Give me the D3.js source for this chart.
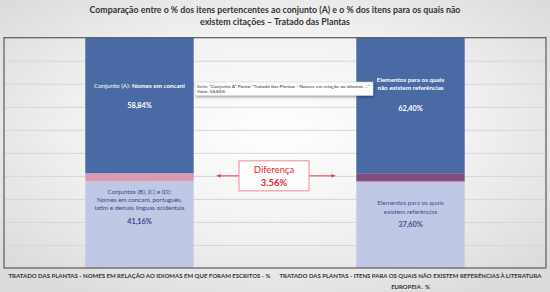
<!DOCTYPE html>
<html>
<head>
<meta charset="utf-8">
<script src="https://cdn.jsdelivr.net/npm/d3@7"></script>
<style>
  body { margin: 0; background: #fff; }
  svg { display: block; font-family: Lato, "Open Sans", sans-serif; }
</style>
</head>
<body>
<script>
var w = 550, h = 292;

// data
var categories = [
  "TRATADO DAS PLANTAS - NOMES EM RELAÇÃO AO IDIOMAS EM QUE FORAM ESCRITOS - %",
  "TRATADO DAS PLANTAS - ITENS PARA OS QUAIS NÃO EXISTEM REFERÊNCIAS À LITERATURA EUROPEIA . %"
];
var categoryLines = [
  ["TRATADO DAS PLANTAS - NOMES EM RELAÇÃO AO IDIOMAS EM QUE FORAM ESCRITOS - %"],
  ["TRATADO DAS PLANTAS - ITENS PARA OS QUAIS NÃO EXISTEM REFERÊNCIAS À LITERATURA", "EUROPEIA . %"]
];
var baseValues = [37.60, 37.60];   // common lower part
var diffValues = [3.56, 3.56];     // difference band
var topValues  = [58.84, 58.84];   // common upper part
var lowerLabels = ["41,16%", "37,60%"];
var upperLabels = ["58,84%", "62,40%"];
var gridTicks = [0, 10, 20, 30, 40, 50, 60, 70, 80, 90, 100];

var margin = {top: 37.7, left: 4, right: 4, bottom: 24};
var plotW = w - margin.left - margin.right,
    plotH = h - margin.top - margin.bottom;

var svg = d3.select("body").append("svg")
    .attr("width", w)
    .attr("height", h);

// background gradient
var defs = svg.append("defs");
var rg = defs.append("radialGradient").attr("id", "bg")
    .attr("cx", "50%").attr("cy", "45%").attr("r", "65%");
rg.append("stop").attr("offset", "0%").attr("stop-color", "#ffffff");
rg.append("stop").attr("offset", "55%").attr("stop-color", "#f1f1f1");
rg.append("stop").attr("offset", "100%").attr("stop-color", "#dcdcdc");
var sh = defs.append("filter").attr("id", "shadow")
    .attr("x", "-10%").attr("y", "-30%").attr("width", "130%").attr("height", "180%");
sh.append("feDropShadow").attr("dx", 1).attr("dy", 1.5).attr("stdDeviation", 1.2)
    .attr("flood-color", "#000").attr("flood-opacity", 0.35);

svg.append("rect").attr("width", w).attr("height", h).attr("fill", "url(#bg)");

// title
svg.append("text")
    .attr("x", w / 2).attr("y", 0)
    .attr("text-anchor", "middle")
    .attr("font-size", 8.8).attr("font-weight", "bold").attr("fill", "#333")
    .selectAll("tspan")
    .data(["Comparação entre o % dos itens pertencentes ao conjunto (A) e o % dos itens para os quais não",
           "existem citações – Tratado das Plantas"])
    .enter().append("tspan")
    .attr("x", w / 2)
    .attr("y", function(d, i) { return 13 + i * 11.5; })
    .text(function(d) { return d; });

var chart = svg.append("g")
    .attr("transform", "translate(" + margin.left + "," + margin.top + ")");

var x = d3.scaleBand()
    .domain(categories)
    .range([0, plotW])
    .paddingInner(0.6)
    .paddingOuter(0.3);

var y = d3.scaleLinear()
    .domain([0, 100])
    .range([plotH, 0]);

// gridlines
chart.append("g").selectAll("line")
    .data(gridTicks.slice(1, -1))
    .enter().append("line")
    .attr("x1", 0).attr("x2", plotW)
    .attr("y1", function(d) { return y(d) + 0.5; })
    .attr("y2", function(d) { return y(d) + 0.5; })
    .attr("stroke", "#d6d6d6").attr("stroke-width", 1);

// stacked bars
var rows = categories.map(function(c, i) {
  return {cat: c, base: baseValues[i], diff: diffValues[i], top: topValues[i]};
});
var stack = d3.stack().keys(["base", "diff", "top"])(rows);
var colors = {
  base: ["#c1c8e6", "#c1c8e6"],
  diff: ["#d99ab4", "#7c4f84"],
  top:  ["#4a6aa5", "#4a6aa5"]
};

stack.forEach(function(layer) {
  chart.append("g").selectAll("rect")
    .data(layer)
    .enter().append("rect")
    .attr("x", function(d) { return x(d.data.cat); })
    .attr("width", x.bandwidth())
    .attr("y", function(d) { return y(d[1]); })
    .attr("height", function(d) { return y(d[0]) - y(d[1]); })
    .attr("fill", function(d, i) { return colors[layer.key][i]; });
});

// thin pink edge at bottom of the purple band (right bar)
chart.append("line")
    .attr("x1", x(categories[1])).attr("x2", x(categories[1]) + x.bandwidth())
    .attr("y1", y(baseValues[1])).attr("y2", y(baseValues[1]))
    .attr("stroke", "#d98aa5").attr("stroke-width", 1);

// plot frame
chart.append("rect")
    .attr("x", 0).attr("y", 0)
    .attr("width", plotW).attr("height", plotH)
    .attr("fill", "none").attr("stroke", "#5a5a5a").attr("stroke-width", 1.2);

// labels inside bars
function lines(g, cx, y0, arr, opts) {
  var t = g.append("text")
      .attr("text-anchor", "middle")
      .attr("font-size", opts.size)
      .attr("fill", opts.color)
      .attr("font-weight", opts.weight || "normal");
  arr.forEach(function(s, i) {
    var ts = t.append("tspan").attr("x", cx).attr("y", y0 + i * opts.lh);
    if (Array.isArray(s)) {
      ts.text(s[0]);
      t.append("tspan").attr("font-weight", "bold").text(s[1]);
    } else {
      ts.text(s);
    }
  });
  return t;
}

var c0 = x(categories[0]) + x.bandwidth() / 2;
var c1 = x(categories[1]) + x.bandwidth() / 2;
var yTop = y(100);

lines(chart, c0, yTop + 50.5, [["Conjunto (A):  ", "Nomes em concani"]], {size: 6.3, color: "#ffffff", lh: 8});
lines(chart, c0, yTop + 70, [upperLabels[0]], {size: 7.3, color: "#ffffff", weight: "bold", lh: 8});

lines(chart, c1, yTop + 44.5, ["Elementos para os quais", "não existem referências"], {size: 6.3, color: "#ffffff", weight: "bold", lh: 8.3});
lines(chart, c1, yTop + 73.5, [upperLabels[1]], {size: 7.3, color: "#ffffff", weight: "bold", lh: 8});

var yLow = y(baseValues[0]);
lines(chart, c0, yLow + 12.5, ["Conjuntos (B), (C) e (D):", "Nomes em concani, português,", "latim e demais línguas ocidentais"], {size: 6.3, color: "#2f4a85", lh: 8.2});
lines(chart, c0, yLow + 42.5, [lowerLabels[0]], {size: 7.3, color: "#2f4a85", weight: "bold", lh: 8});

lines(chart, c1, yLow + 24, ["Elementos para os quais", "existem referências"], {size: 6.3, color: "#3a5590", lh: 8.3});
lines(chart, c1, yLow + 46, [lowerLabels[1]], {size: 7.3, color: "#3a5590", weight: "bold", lh: 8});

// difference callout
var midY = y(baseValues[0] + diffValues[0] / 2) - 1.5;
var boxX0 = 235, boxX1 = 305;
var arrowL = x(categories[0]) + x.bandwidth() + 23;
var arrowR = x(categories[1]) - 21;
var red = "#e84a55";
chart.append("line").attr("x1", arrowL).attr("x2", boxX0).attr("y1", midY).attr("y2", midY)
    .attr("stroke", red).attr("stroke-width", 1);
chart.append("line").attr("x1", boxX1).attr("x2", arrowR).attr("y1", midY).attr("y2", midY)
    .attr("stroke", red).attr("stroke-width", 1);
chart.append("path").attr("d", "M" + arrowL + "," + midY + "l4,-2v4z").attr("fill", red);
chart.append("path").attr("d", "M" + arrowR + "," + midY + "l-4,-2v4z").attr("fill", red);
chart.append("rect")
    .attr("x", boxX0).attr("y", midY - 15)
    .attr("width", boxX1 - boxX0).attr("height", 30)
    .attr("fill", "#ffffff").attr("stroke", "#ec8a90").attr("stroke-width", 1);
chart.append("text").attr("x", (boxX0 + boxX1) / 2).attr("y", midY - 2.5)
    .attr("text-anchor", "middle").attr("font-size", 9.5).attr("fill", "#e8202a")
    .text("Diferença");
chart.append("text").attr("x", (boxX0 + boxX1) / 2).attr("y", midY + 10)
    .attr("text-anchor", "middle").attr("font-size", 9.5).attr("font-weight", "bold").attr("fill", "#e8202a")
    .text("3.56%");

// tooltip
var tip = chart.append("g").attr("transform", "translate(191," + (82 - margin.top) + ")");
tip.append("rect").attr("width", 178).attr("height", 13.5)
    .attr("fill", "#fdfdfd").attr("stroke", "#cfcfcf").attr("stroke-width", 0.5)
    .attr("filter", "url(#shadow)");
tip.append("text").attr("x", 2).attr("y", 5.6).attr("font-size", 4.6).attr("fill", "#333")
    .text("Série \"Conjunto A\" Ponto \"Tratado das Plantas - Nomes em relação ao idiomas ...\"")
    .attr("textLength", 172).attr("lengthAdjust", "spacingAndGlyphs");
tip.append("text").attr("x", 2).attr("y", 11.4).attr("font-size", 4.6).attr("fill", "#333")
    .text("Valor: " + upperLabels[0]);

// category labels (widths measured on the reference)
var labelWidths = [[262], [262]];
categoryLines.forEach(function(arr, i) {
  var cx = margin.left + x(categories[i]) + x.bandwidth() / 2;
  var t = svg.append("text")
      .attr("text-anchor", "middle")
      .attr("font-size", 6).attr("font-weight", "bold").attr("fill", "#333");
  arr.forEach(function(s, j) {
    var ts = t.append("tspan").attr("x", cx).attr("y", 278 + j * 10.5).text(s);
    if (labelWidths[i][j]) ts.attr("textLength", labelWidths[i][j]).attr("lengthAdjust", "spacingAndGlyphs");
  });
});
</script>
</body>
</html>
